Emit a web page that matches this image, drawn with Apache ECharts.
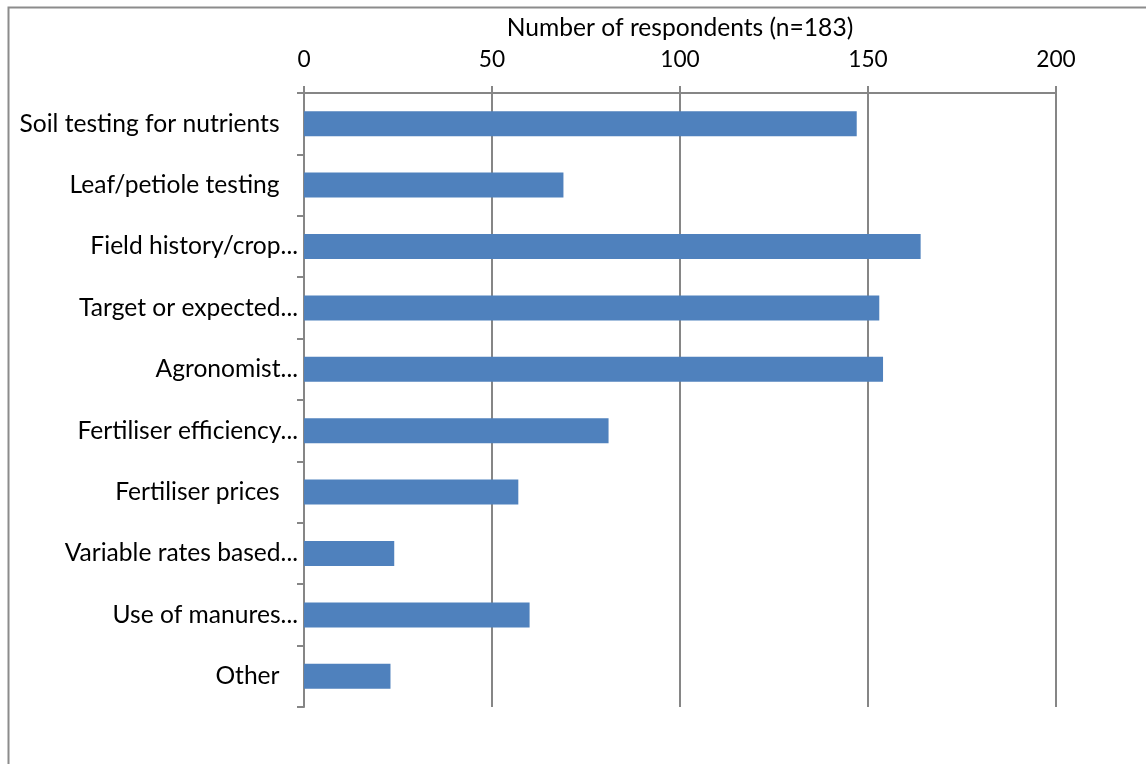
<!DOCTYPE html>
<html>
<head>
<meta charset="utf-8">
<script src="https://cdn.jsdelivr.net/npm/echarts@6/dist/echarts.min.js"></script>
<style>html,body{margin:0;padding:0;background:#fff;}#c{width:1146px;height:764px;}</style>
</head>
<body>
<div id="c"></div>
<script>
const categories = [
  "Soil testing for nutrients ",
  "Leaf/petiole testing ",
  "Field history/crop...",
  "Target or expected...",
  "Agronomist...",
  "Fertiliser efficiency...",
  "Fertiliser prices ",
  "Variable rates based...",
  "Use of manures...",
  "Other "
];
const respondents = [147, 69, 164, 153, 154, 81, 57, 24, 60, 23];
const xTicks = { min: 0, max: 200, interval: 50 };
const axisTitle = "Number of respondents (n=183)";

const chart = echarts.init(document.getElementById('c'));
const font = 'Lato, "Open Sans", sans-serif';
chart.setOption({
  animation: false,
  backgroundColor: '#fff',
  textStyle: { fontFamily: font },
  graphic: [{
    type: 'rect',
    shape: { x: 8.5, y: 7.5, width: 1300, height: 900 },
    style: { fill: 'none', stroke: '#8c8c8c', lineWidth: 2 },
    silent: true
  }],
  grid: { left: 304, top: 93, right: 90, bottom: 57, containLabel: false },
  xAxis: {
    type: 'value',
    position: 'top',
    min: xTicks.min, max: xTicks.max, interval: xTicks.interval,
    name: axisTitle,
    nameLocation: 'middle',
    nameGap: 52,
    nameTextStyle: { fontSize: 24.6, color: '#000', fontFamily: font },
    axisLine: { show: true, lineStyle: { color: '#868686', width: 2 } },
    axisTick: { show: true, length: 7, lineStyle: { color: '#868686', width: 2 } },
    axisLabel: { fontSize: 22.7, color: '#000', margin: 22, fontFamily: font },
    splitLine: { show: true, lineStyle: { color: '#868686', width: 2 } }
  },
  yAxis: {
    type: 'category',
    inverse: true,
    data: categories,
    axisLine: { show: true, lineStyle: { color: '#868686', width: 2 } },
    axisTick: { show: true, length: 7, lineStyle: { color: '#868686', width: 2 } },
    axisLabel: {
      fontSize: 24.6, color: '#000', margin: 6, fontFamily: font,
      formatter: function (v) { return /\s$/.test(v) ? v.replace(/\s+$/, '') + '\u2002\u2009\u2009' : v; }
    },
    splitLine: { show: false }
  },
  series: [{
    type: 'bar',
    data: respondents,
    barWidth: 25,
    itemStyle: { color: '#4F81BD' }
  }]
});
</script>
</body>
</html>
